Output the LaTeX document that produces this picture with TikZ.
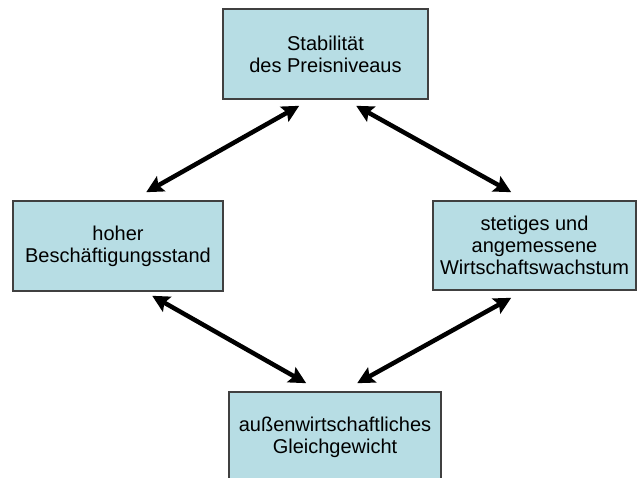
\documentclass[tikz,border=0pt]{standalone}
\usepackage{fontspec}
\setmainfont{Liberation Sans}
\usepackage{xcolor}
\usepackage{tikz}
\usetikzlibrary{arrows.meta, calc}

\definecolor{boxfill}{RGB}{183,221,228}
\definecolor{boxline}{RGB}{64,64,64}

\begin{document}
\begin{tikzpicture}[
                x=1pt, y=-1pt,
                goal/.style={rectangle, draw=boxline, line width=1.6pt, fill=boxfill,
                    align=center, inner sep=2pt,
                    font=\fontsize{20}{22}\selectfont},
                link/.style={line width=4.5pt, {Stealth[length=17pt, width=17pt, inset=3pt]}-{Stealth[length=17pt, width=17pt, inset=3pt]}}
            ]
                \useasboundingbox (0,0) rectangle (637,478);

                % Nodes
                \node[goal, minimum width=205pt, minimum height=90pt] (stab) at (325.5,54) {Stabilität\\des Preisniveaus};
                \node[goal, minimum width=210pt, minimum height=90pt] (besch) at (118,246) {hoher\\Beschäftigungsstand};
                \node[goal, minimum width=203pt, minimum height=89pt] (wachs) at (534.5,245.5) {stetiges und\\angemessene\\Wirtschaftswachstum};
                \node[goal, minimum width=212pt, minimum height=90pt] (gleich) at (335,437) {außenwirtschaftliches\\Gleichgewicht};

                % Edges
                \draw[link] ($(stab.south west)+(77,6)$) -- ($(besch.north west)+(134,-8)$);
                \draw[link] ($(stab.south west)+(134,6)$) -- ($(wachs.north west)+(79,-8)$);
                \draw[link] ($(besch.south west)+(140,4)$) -- ($(gleich.north west)+(78,-8)$);
                \draw[link] ($(wachs.south west)+(79,7)$) -- ($(gleich.north west)+(129,-8)$);
            \end{tikzpicture}
\end{document}
